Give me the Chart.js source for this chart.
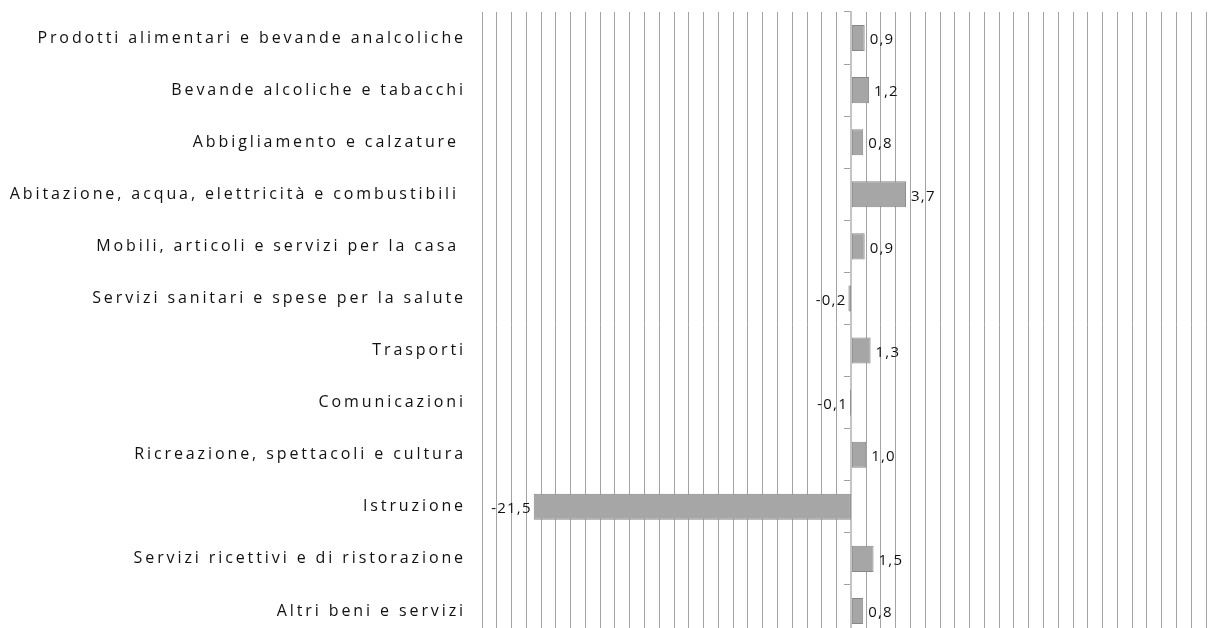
<!DOCTYPE html>
<html>
<head>
<meta charset="utf-8">
<script src="https://cdn.jsdelivr.net/npm/chart.js@4/dist/chart.umd.min.js"></script>
<style>
  html, body { margin: 0; padding: 0; background: #fff; overflow: hidden; }
  #wrap { position: relative; width: 1210px; height: 637px; }
</style>
</head>
<body>
<div id="wrap"><canvas id="chart"></canvas></div>
<script>
// Categories and values (variation, %)
const categories = [
  'Prodotti alimentari e bevande analcoliche',
  'Bevande alcoliche e tabacchi',
  'Abbigliamento e calzature ',
  'Abitazione, acqua, elettricità e combustibili ',
  'Mobili, articoli e servizi per la casa ',
  'Servizi sanitari e spese per la salute',
  'Trasporti',
  'Comunicazioni',
  'Ricreazione, spettacoli e cultura',
  'Istruzione',
  'Servizi ricettivi e di ristorazione',
  'Altri beni e servizi'
];
const values = [0.9, 1.2, 0.8, 3.7, 0.9, -0.2, 1.3, -0.1, 1.0, -21.5, 1.5, 0.8];
const xMin = -25;
const xMax = 24;

const FONT = 'Open Sans';

// Wide letter spacing like the original labels
const spacingPlugin = {
  id: 'spacing',
  beforeDraw(chart) {
    chart.ctx.letterSpacing = '2.9px';
  }
};

// Value labels next to bar ends, Italian decimal comma
const valueLabels = {
  id: 'valueLabels',
  afterDatasetsDraw(chart) {
    const ctx = chart.ctx;
    const meta = chart.getDatasetMeta(0);
    ctx.save();
    ctx.letterSpacing = '1.2px';
    ctx.font = '15px "' + FONT + '"';
    ctx.fillStyle = '#111';
    ctx.textBaseline = 'middle';
    meta.data.forEach(function (bar, i) {
      const v = values[i];
      const txt = v.toFixed(1).replace('.', ',');
      if (v >= 0) {
        ctx.textAlign = 'left';
        ctx.fillText(txt, bar.x + 5, bar.y + 2);
      } else {
        ctx.textAlign = 'right';
        ctx.fillText(txt, bar.x - 2, bar.y + 2);
      }
    });
    ctx.restore();
  }
};

const ctx = document.getElementById('chart').getContext('2d');
new Chart(ctx, {
  type: 'bar',
  data: {
    labels: categories,
    datasets: [{
      data: values,
      backgroundColor: '#a6a6a6',
      borderColor: '#878787',
      borderWidth: 1,
      borderSkipped: false,
      barPercentage: 0.5,
      categoryPercentage: 1.0
    }]
  },
  options: {
    indexAxis: 'y',
    responsive: true,
    maintainAspectRatio: false,
    animation: false,
    layout: { padding: { top: 12, right: 4, bottom: 0, left: 0 } },
    plugins: {
      legend: { display: false },
      tooltip: { enabled: false }
    },
    scales: {
      x: {
        min: xMin,
        max: xMax,
        afterFit: function (scale) {
          scale.height = 0;
          scale.paddingLeft = 0;
          scale.paddingRight = 0;
        },
        ticks: { display: false, stepSize: 1 },
        grid: {
          color: function (c) { return c.tick && c.tick.value === 0 ? 'rgba(0,0,0,0)' : '#a3a3a3'; },
          lineWidth: 1,
          drawTicks: false
        },
        border: { display: false }
      },
      y: {
        position: 'left',
        afterFit: function (scale) {
          scale.width = 482;
          scale.paddingTop = 0;
          scale.paddingBottom = 0;
        },
        ticks: {
          padding: 16,
          color: '#111',
          font: { family: FONT, size: 16 }
        },
        grid: { drawOnChartArea: false, drawTicks: false },
        border: { display: false }
      },
      y2: {
        axis: 'y',
        type: 'category',
        labels: categories,
        position: { x: 0 },
        ticks: { display: false },
        grid: {
          drawOnChartArea: false,
          drawTicks: true,
          tickLength: 6,
          color: '#a0a0a0',
          offset: true
        },
        border: { display: true, color: '#c4c4c4', width: 2 }
      }
    }
  },
  plugins: [spacingPlugin, valueLabels]
});
</script>
</body>
</html>
